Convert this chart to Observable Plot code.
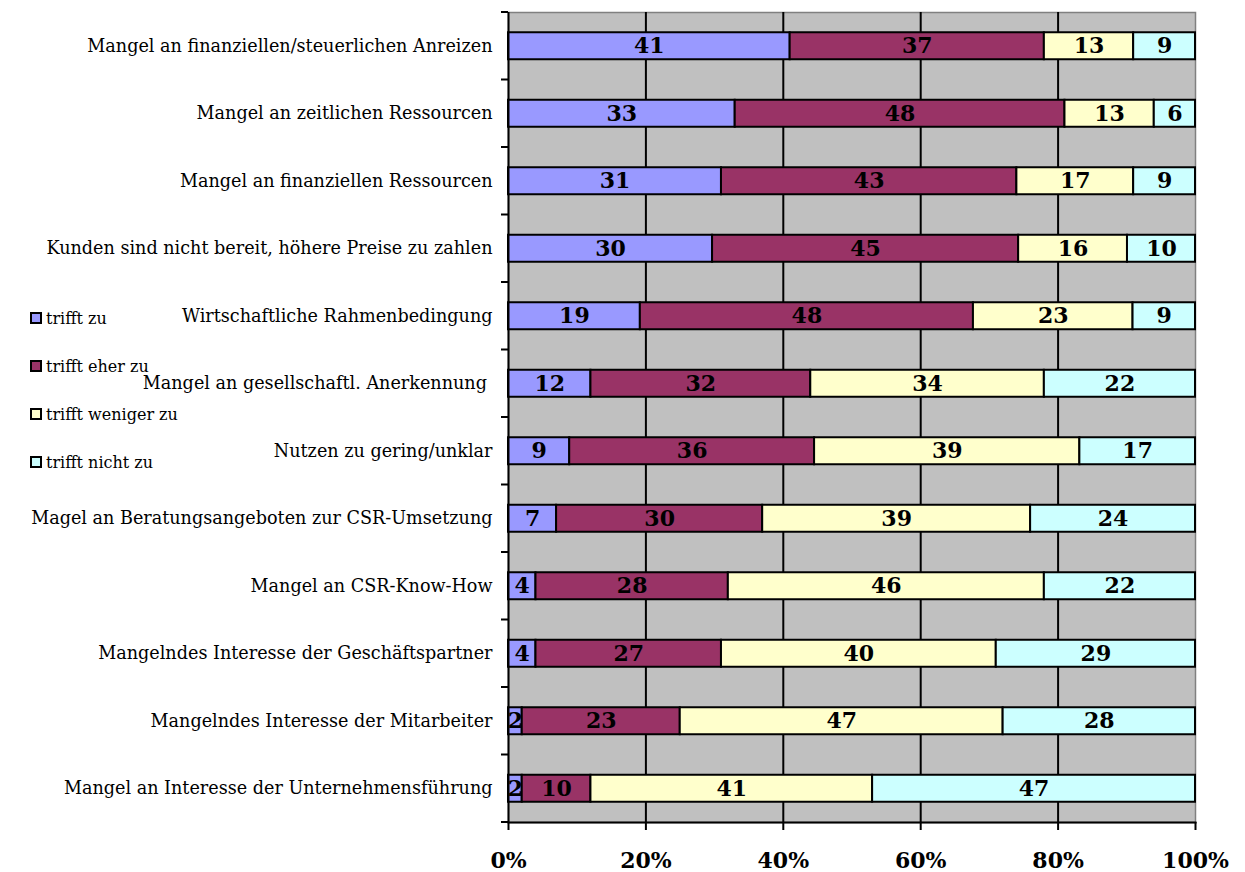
<!DOCTYPE html>
<html>
<head>
<meta charset="utf-8">
<script src="https://cdn.jsdelivr.net/npm/d3@7"></script>
<script src="https://cdn.jsdelivr.net/npm/@observablehq/plot@0.6"></script>
<style>
  html, body { margin: 0; padding: 0; background: white; }
  #wrap { position: relative; width: 1245px; height: 872px; }
  #wrap svg text { white-space: pre; }
  #legend { position: absolute; left: 30px; top: 306px; font-family: "DejaVu Serif", serif; font-size: 16px; color: #000; }
  .item { display: flex; align-items: center; height: 24px; margin-bottom: 24px; }
  .sw { width: 8px; height: 8px; border: 2px solid #000; margin-right: 4px; }
</style>
</head>
<body>
<div id="wrap"></div>
<script>
const categories = [
  "Mangel an finanziellen/steuerlichen Anreizen",
  "Mangel an zeitlichen Ressourcen",
  "Mangel an finanziellen Ressourcen",
  "Kunden sind nicht bereit, höhere Preise zu zahlen",
  "Wirtschaftliche Rahmenbedingung",
  "Mangel an gesellschaftl. Anerkennung ",
  "Nutzen zu gering/unklar",
  "Magel an Beratungsangeboten zur CSR-Umsetzung",
  "Mangel an CSR-Know-How",
  "Mangelndes Interesse der Geschäftspartner",
  "Mangelndes Interesse der Mitarbeiter",
  "Mangel an Interesse der Unternehmensführung"
];
const seriesNames = ["trifft zu", "trifft eher zu", "trifft weniger zu", "trifft nicht zu"];
const trifftZu        = [41, 33, 31, 30, 19, 12,  9,  7,  4,  4,  2,  2];
const trifftEherZu    = [37, 48, 43, 45, 48, 32, 36, 30, 28, 27, 23, 10];
const trifftWenigerZu = [13, 13, 17, 16, 23, 34, 39, 39, 46, 40, 47, 41];
const trifftNichtZu   = [ 9,  6,  9, 10,  9, 22, 17, 24, 22, 29, 28, 47];
const seriesColors = ["#9999ff", "#993366", "#ffffcc", "#ccffff"];
const xTicks = [0, 0.2, 0.4, 0.6, 0.8, 1];

const seriesValues = [trifftZu, trifftEherZu, trifftWenigerZu, trifftNichtZu];
const data = [];
categories.forEach((c, i) => {
  seriesNames.forEach((s, j) => data.push({category: c, series: s, value: seriesValues[j][i]}));
});

const fmtPct = d => Math.round(d * 100) + "%";

const plot = Plot.plot({
  width: 1245,
  height: 872,
  marginLeft: 508,
  marginRight: 50,
  marginTop: 12,
  marginBottom: 50,
  style: {fontFamily: "DejaVu Serif", fontSize: "17px", background: "white", color: "black"},
  x: {domain: [0, 1], label: null},
  y: {domain: categories, paddingInner: 0.6, paddingOuter: 0.3, round: false, label: null},
  color: {domain: seriesNames, range: seriesColors},
  marks: [
    Plot.frame({fill: "#c0c0c0", stroke: "#808080", strokeWidth: 1.5}),
    Plot.gridX(xTicks.slice(1, -1), {stroke: "black", strokeOpacity: 1, strokeWidth: 2}),
    Plot.barX(data, Plot.stackX({
      offset: "normalize", order: seriesNames,
      x: "value", y: "category", z: "series", fill: "series",
      stroke: "black", strokeWidth: 2
    })),
    Plot.text(data, Plot.stackX({
      offset: "normalize", order: seriesNames,
      x: "value", y: "category", z: "series",
      text: d => String(d.value), fill: "black",
      fontSize: 22, fontWeight: "bold"
    })),
    Plot.ruleX([0], {stroke: "black", strokeWidth: 2}),
    Plot.frame({anchor: "bottom", stroke: "black", strokeWidth: 2}),
    Plot.axisX(xTicks, {tickSize: 8, tickPadding: 22, fontSize: 22, fontWeight: "bold", tickFormat: fmtPct, strokeWidth: 2, label: null}),
    Plot.axisY({tickSize: 0, tickPadding: 16, fontSize: 17.6, label: null})
  ]
});

// boundary ticks on the category axis, placed from the band scale
const ys = plot.scale("y");
const step = ys.step ?? ys.bandwidth / (1 - ys.paddingInner);
const off = (step - ys.bandwidth) / 2;
const xs = plot.scale("x");
const x0 = xs.apply(0);
const bounds = categories.map(c => ys.apply(c) - off);
bounds.push(ys.apply(categories[categories.length - 1]) + ys.bandwidth + off);
d3.select(plot).append("g")
  .attr("stroke", "black").attr("stroke-width", 2)
  .selectAll("line").data(bounds).join("line")
  .attr("x1", x0 - 7).attr("x2", x0)
  .attr("y1", d => d).attr("y2", d => d);

const wrap = document.getElementById("wrap");
wrap.appendChild(plot);

const legend = document.createElement("div");
legend.id = "legend";
seriesNames.forEach((s, j) => {
  const it = document.createElement("div");
  it.className = "item";
  const sw = document.createElement("div");
  sw.className = "sw";
  sw.style.background = seriesColors[j];
  const t = document.createElement("span");
  t.textContent = s;
  it.appendChild(sw); it.appendChild(t);
  legend.appendChild(it);
});
wrap.appendChild(legend);
</script>
</body>
</html>
